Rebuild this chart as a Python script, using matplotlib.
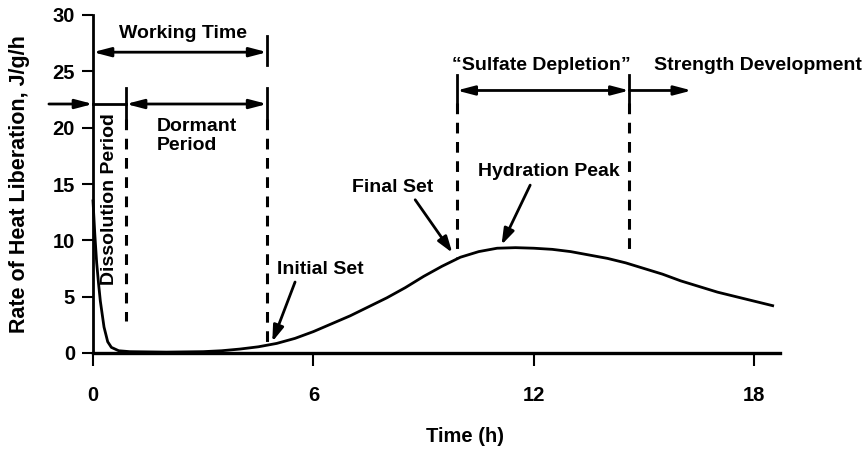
import matplotlib
matplotlib.use("Agg")
import matplotlib.pyplot as plt
import numpy as np

plt.rcParams['font.family'] = ['Liberation Sans', 'DejaVu Sans']
plt.rcParams['font.weight'] = 'bold'

# Data: heat-liberation curve
time_h = [0.0, 0.05, 0.1, 0.15, 0.2, 0.3, 0.4, 0.5, 0.7, 1.0, 2.0, 3.0, 3.5, 4.0,
          4.5, 5.0, 5.5, 6.0, 6.5, 7.0, 7.5, 8.0, 8.5, 9.0, 9.5, 10.0, 10.5, 11.0,
          11.5, 12.0, 12.5, 13.0, 13.5, 14.0, 14.5, 15.0, 15.5, 16.0, 16.5, 17.0,
          17.5, 18.0, 18.5]
heat_rate = [13.5, 10.5, 8.0, 6.2, 4.6, 2.3, 1.0, 0.5, 0.2, 0.12, 0.08, 0.12, 0.2, 0.35,
             0.55, 0.85, 1.3, 1.9, 2.6, 3.3, 4.1, 4.9, 5.8, 6.8, 7.7, 8.5, 9.0, 9.3,
             9.35, 9.3, 9.2, 9.0, 8.7, 8.4, 8.0, 7.5, 7.0, 6.4, 5.9, 5.4,
             5.0, 4.6, 4.2]

x_ticks = [0, 6, 12, 18]
y_ticks = [0, 5, 10, 15, 20, 25, 30]

# Phase boundaries (hours)
dissolution_end = 0.9
working_end = 4.74
sulfate_start = 9.9
sulfate_end = 14.6
strength_end = 16.3

fig = plt.figure(figsize=(8.65, 4.5), dpi=100)
ax = fig.add_axes([93/865, 1-353/450, (780-93)/865, (353-15)/450])
ax.set_xlim(0, 18.7)
ax.set_ylim(0, 30)

for s in ['top', 'right']:
    ax.spines[s].set_visible(False)
ax.spines['bottom'].set_linewidth(2.4)
ax.spines['left'].set_linewidth(2.0)

fs = 14.0
ax.set_xticks(x_ticks)
ax.set_yticks(y_ticks)
ax.tick_params(axis='x', direction='out', length=9, width=1.5, pad=15, labelsize=14.5)
ax.tick_params(axis='y', direction='out', length=8, width=1.5, pad=5, labelsize=14.5)
for lab in ax.get_xticklabels() + ax.get_yticklabels():
    lab.set_fontweight('bold')

ax.plot(time_h, heat_rate, color='black', lw=2.0, clip_on=False, zorder=3)

ax.set_ylabel('Rate of Heat Liberation, J/g/h', fontsize=15.5, fontweight='bold', labelpad=16)
fig.text(465/865, 1-437/450, 'Time (h)', ha='center', va='center', fontsize=14.5, fontweight='bold')

dash = dict(color='black', lw=2.2, linestyle=(0, (3.5, 2.8)), clip_on=False)
solid = dict(color='black', lw=2.0, clip_on=False)

# dashed verticals
ax.plot([dissolution_end, dissolution_end], [20.8, 2.8], **dash)
ax.plot([working_end, working_end], [20.8, 0.9], **dash)
ax.plot([sulfate_start, sulfate_start], [22.2, 8.4], **dash)
ax.plot([sulfate_end, sulfate_end], [22.2, 8.6], **dash)

# solid bars
ax.plot([working_end, working_end], [25.6, 28.1], **solid)
ax.plot([working_end, working_end], [20.8, 23.5], **solid)
ax.plot([dissolution_end, dissolution_end], [20.8, 23.5], **solid)
ax.plot([sulfate_start, sulfate_start], [22.2, 24.7], **solid)
ax.plot([sulfate_end, sulfate_end], [22.2, 24.7], **solid)

head = 'head_length=0.65,head_width=0.17'
aprops2 = dict(arrowstyle='<|-|>,' + head, color='black', lw=2.0, mutation_scale=16, shrinkA=0, shrinkB=0)
aprops1 = dict(arrowstyle='-|>,' + head, color='black', lw=2.0, mutation_scale=16, shrinkA=0, shrinkB=0)

ax.annotate('', xy=(working_end, 26.7), xytext=(0, 26.7), arrowprops=aprops2, annotation_clip=False)
ax.annotate('', xy=(0, 22.1), xytext=(-1.2, 22.1), arrowprops=aprops1, annotation_clip=False)
ax.plot([0, dissolution_end], [22.1, 22.1], **solid)
ax.annotate('', xy=(working_end, 22.1), xytext=(dissolution_end, 22.1), arrowprops=aprops2, annotation_clip=False)
ax.annotate('', xy=(sulfate_end, 23.3), xytext=(sulfate_start, 23.3), arrowprops=aprops2, annotation_clip=False)
ax.annotate('', xy=(strength_end, 23.3), xytext=(sulfate_end, 23.3), arrowprops=aprops1, annotation_clip=False)

ax.text(2.45, 28.4, 'Working Time', ha='center', va='center', fontsize=fs, fontweight='bold')
ax.text(1.74, 19.3, 'Dormant\nPeriod', ha='left', va='center', fontsize=fs, fontweight='bold', linespacing=1.15)
ax.text(0.46, 13.7, 'Dissolution Period', ha='center', va='center', rotation=90, fontsize=fs, fontweight='bold')
ax.text(12.2, 25.5, '\u201cSulfate Depletion\u201d', ha='center', va='center', fontsize=fs, fontweight='bold')
ax.text(18.1, 25.5, 'Strength Development', ha='center', va='center', fontsize=fs, fontweight='bold', clip_on=False)

ann = dict(arrowstyle='-|>,head_length=0.6,head_width=0.2', color='black', lw=2.0, mutation_scale=16, shrinkA=0, shrinkB=0)
ax.annotate('', xy=(4.88, 1.0), xytext=(5.5, 6.3), arrowprops=ann)
ax.text(6.2, 7.4, 'Initial Set', ha='center', va='center', fontsize=fs, fontweight='bold')
ax.annotate('', xy=(9.78, 8.9), xytext=(8.77, 13.6), arrowprops=ann)
ax.text(8.15, 14.7, 'Final Set', ha='center', va='center', fontsize=fs, fontweight='bold')
ax.annotate('', xy=(11.12, 9.6), xytext=(11.9, 14.9), arrowprops=ann)
ax.text(12.4, 16.1, 'Hydration Peak', ha='center', va='center', fontsize=fs, fontweight='bold')

fig.savefig('out.png', dpi=100)
